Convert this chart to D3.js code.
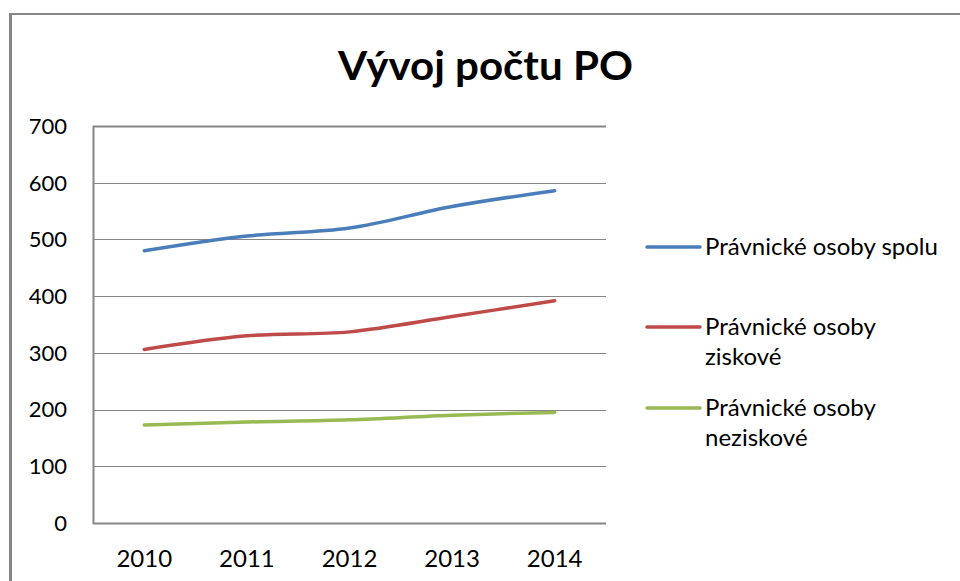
<!DOCTYPE html>
<html lang="sk">
<head>
    <meta charset="UTF-8">
    <title>Vývoj počtu PO</title>
    <style>
        body { margin: 0; background: #fff; }
        svg { display: block; }
        text { font-family: Lato, "Open Sans", sans-serif; fill: #000; }
    </style>
</head>
<body>
    <div id="chart"></div>
    <script src="https://d3js.org/d3.v7.min.js"></script>
    <script>
        const years = ['2010', '2011', '2012', '2013', '2014']
        const spolu = [480, 506, 520, 558, 586]
        const ziskove = [306, 330, 337, 364, 392]
        const neziskove = [173, 178, 182, 190, 195]
        const yTicks = [0, 100, 200, 300, 400, 500, 600, 700]
        const seriesNames = [['Právnické osoby spolu'], ['Právnické osoby', 'ziskové'], ['Právnické osoby', 'neziskové']]

        const width = 960
        const height = 581
        const plot = { left: 93, right: 606, top: 126, bottom: 523 }
        const gridColor = '#868686'
        const colors = ['#4A7EBB', '#BE4B48', '#98B954']

        const svg = d3.select('#chart').append('svg')
            .attr('width', width)
            .attr('height', height)

        // outer chart frame
        svg.append('line').attr('x1', 10.5).attr('x2', 10.5).attr('y1', 13).attr('y2', height)
            .attr('stroke', gridColor).attr('stroke-width', 3)
        svg.append('line').attr('x1', 9).attr('x2', width).attr('y1', 14).attr('y2', 14)
            .attr('stroke', gridColor).attr('stroke-width', 2)

        svg.append('text')
            .attr('x', 338).attr('y', 80)
            .attr('textLength', 295)
            .attr('lengthAdjust', 'spacingAndGlyphs')
            .style('font-size', '40px')
            .style('font-weight', 700)
            .text('Vývoj počtu PO')

        const x = d3.scaleBand().domain(years).range([plot.left, plot.right])
        const y = d3.scaleLinear().domain([0, 700]).range([plot.bottom, plot.top])

        // gridlines
        svg.append('g')
            .selectAll('line')
            .data(yTicks.slice(1))
            .enter()
            .append('line')
            .attr('x1', plot.left).attr('x2', plot.right)
            .attr('y1', d => Math.round(y(d)) + 0.5)
            .attr('y2', d => Math.round(y(d)) + 0.5)
            .attr('stroke', gridColor)
            .attr('stroke-width', d => d === 700 ? 2 : 1)

        // axis lines
        svg.append('line').attr('x1', plot.left + 0.5).attr('x2', plot.left + 0.5)
            .attr('y1', plot.top).attr('y2', plot.bottom + 1)
            .attr('stroke', gridColor).attr('stroke-width', 2)
        svg.append('line').attr('x1', plot.left).attr('x2', plot.right)
            .attr('y1', plot.bottom + 0.5).attr('y2', plot.bottom + 0.5)
            .attr('stroke', gridColor).attr('stroke-width', 2)

        // y labels
        svg.append('g')
            .selectAll('text')
            .data(yTicks)
            .enter()
            .append('text')
            .attr('x', 67)
            .attr('y', d => y(d))
            .attr('dy', '0.36em')
            .attr('text-anchor', 'end')
            .style('font-size', '22px')
            .text(d => d)

        // x labels
        svg.append('g')
            .selectAll('text')
            .data(years)
            .enter()
            .append('text')
            .attr('x', d => x(d) + x.bandwidth() / 2)
            .attr('y', 567)
            .attr('text-anchor', 'middle')
            .style('font-size', '24px')
            .text(d => d)

        const line = d3.line()
            .x((d, i) => x(years[i]) + x.bandwidth() / 2)
            .y(d => y(d))
            .curve(d3.curveCatmullRom.alpha(0.5))

        const allSeries = [spolu, ziskove, neziskove]
        svg.append('g')
            .selectAll('path')
            .data(allSeries)
            .enter()
            .append('path')
            .attr('d', d => line(d))
            .attr('fill', 'none')
            .attr('stroke', (d, i) => colors[i])
            .attr('stroke-width', 3.5)
            .attr('stroke-linecap', 'round')

        // legend
        const legendY = [247, 327, 408]
        seriesNames.forEach(function (name, i) {
            const g = svg.append('g')
            g.append('line')
                .attr('x1', 647).attr('x2', 700)
                .attr('y1', legendY[i]).attr('y2', legendY[i])
                .attr('stroke', colors[i])
                .attr('stroke-width', 3.5)
                .attr('stroke-linecap', 'round')
            name.forEach(function (t, j) {
                g.append('text')
                    .attr('x', 705)
                    .attr('y', legendY[i] + 8 + j * 30)
                    .style('font-size', '24px')
                    .text(t)
            })
        })
    </script>
</body>
</html>
